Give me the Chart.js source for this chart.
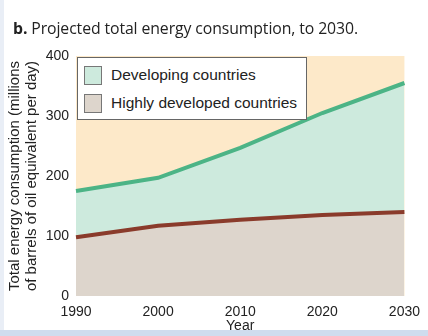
<!DOCTYPE html>
<html>
<head>
<meta charset="utf-8">
<script src="https://cdn.jsdelivr.net/npm/chart.js@4/dist/chart.umd.min.js"></script>
<style>
  html, body { margin: 0; padding: 0; background: #ffffff; }
  #wrap { position: relative; width: 428px; height: 336px; overflow: hidden; }
  #c { position: absolute; left: 0; top: 0; }
  #title { position: absolute; left: 13px; top: 17px; font-family: "Open Sans", "Noto Sans", sans-serif; font-size: 15.8px; color: #222; white-space: nowrap; letter-spacing: -0.1px; }
  #title b { font-weight: 700; }
  #legend { position: absolute; left: 77px; top: 57px; width: 230px; height: 63px; background: #fff; border: 1px solid #666; box-sizing: border-box; font-family: "Liberation Sans", Arial, sans-serif; font-size: 15.5px; color: #222; }
  .item { position: absolute; left: 6px; height: 20px; display: flex; align-items: center; }
  .sw { width: 18px; height: 19px; border: 1px solid #777; box-sizing: border-box; margin-right: 9px; }
  #leftstrip { position: absolute; left: 0; top: 0; width: 4px; height: 336px; background: #e9eef6; }
  #botstrip { position: absolute; left: 0; top: 330px; width: 428px; height: 6px; background: #cfdcee; }
</style>
</head>
<body>
<div id="wrap">
  <canvas id="c" width="428" height="336"></canvas>
  <div id="title"><b>b.</b> Projected total energy consumption, to 2030.</div>
  <div id="legend"></div>
  <div id="leftstrip"></div>
  <div id="botstrip"></div>
</div>
<script>
// Data
const years = [1990, 2000, 2010, 2020, 2030];
const developingTotal = [175, 197, 247, 305, 355];   // upper (green) line
const highlyDeveloped = [98, 117, 127, 135, 140];    // lower (brown) line
const yTicks = [0, 100, 200, 300, 400];
const seriesLabels = ['Developing countries', 'Highly developed countries'];

const colors = {
  bg: '#fde9c9',
  devFill: '#cdeadd',
  devLine: '#4cb486',
  hiFill: '#ddd5cc',
  hiLine: '#8a3b2b'
};

// HTML legend built from the series labels
const legendEl = document.getElementById('legend');
[[seriesLabels[0], colors.devFill, 7], [seriesLabels[1], colors.hiFill, 35]].forEach(([t, col, top]) => {
  const d = document.createElement('div');
  d.className = 'item';
  d.style.top = top + 'px';
  d.innerHTML = '<span class="sw" style="background:' + col + '"></span><span>' + t + '</span>';
  legendEl.appendChild(d);
});

const bgPlugin = {
  id: 'areaBg',
  beforeDraw(chart) {
    const { ctx, chartArea: a } = chart;
    ctx.save();
    ctx.fillStyle = colors.bg;
    ctx.fillRect(a.left, a.top, a.right - a.left, a.bottom - a.top);
    ctx.restore();
  }
};

const tickFont = { family: '"Liberation Sans", Arial, sans-serif', size: 14 };

new Chart(document.getElementById('c'), {
  type: 'line',
  data: {
    labels: years.map(String),
    datasets: [
      {
        label: seriesLabels[1],
        data: highlyDeveloped,
        borderColor: colors.hiLine,
        backgroundColor: colors.hiFill,
        borderWidth: 4,
        pointRadius: 0,
        fill: 'origin',
        tension: 0
      },
      {
        label: seriesLabels[0],
        data: developingTotal,
        borderColor: colors.devLine,
        backgroundColor: colors.devFill,
        borderWidth: 4,
        pointRadius: 0,
        fill: '-1',
        tension: 0
      }
    ]
  },
  options: {
    responsive: false,
    animation: false,
    layout: { padding: { left: 4, top: 56, right: 23, bottom: 0 } },
    plugins: {
      legend: { display: false },
      tooltip: { enabled: false },
      title: { display: false },
      filler: { drawTime: 'beforeDatasetsDraw' }
    },
    scales: {
      x: {
        type: 'category',
        offset: false,
        grid: { display: false, drawTicks: false },
        border: { display: false },
        ticks: { color: '#222', font: tickFont, padding: 8, maxRotation: 0, autoSkip: false },
        title: { display: true, text: 'Year', color: '#222', font: tickFont, padding: { top: 0, bottom: 1 } },
        afterFit(s) { s.height = 40; }
      },
      y: {
        min: 0, max: 400,
        afterBuildTicks(s) { s.ticks = yTicks.map(v => ({ value: v })); },
        grid: { display: false, drawTicks: false },
        border: { display: false },
        ticks: { color: '#222', font: tickFont, padding: 7 },
        title: {
          display: true,
          text: ['Total energy consumption (millions', 'of barrels of oil equivalent per day)'],
          color: '#222',
          font: { family: '"Liberation Sans", Arial, sans-serif', size: 15, lineHeight: 1.1 },
          padding: { top: 3, bottom: 0 }
        },
        afterFit(s) { s.width = 72; }
      }
    }
  },
  plugins: [bgPlugin]
});
</script>
</body>
</html>
